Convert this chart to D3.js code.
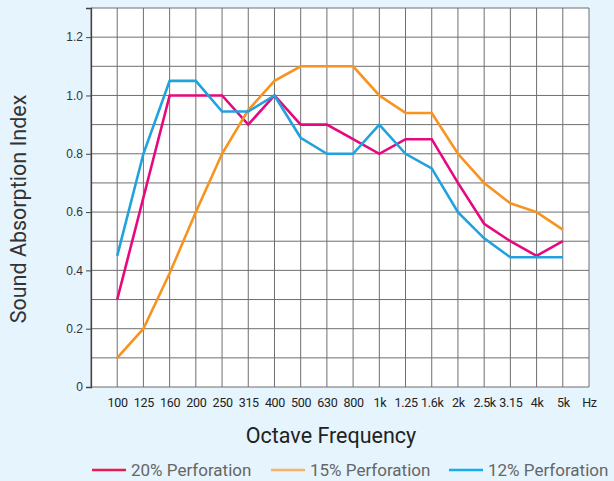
<!DOCTYPE html>
<html>
<head>
<meta charset="utf-8">
<script src="https://cdn.jsdelivr.net/npm/d3@7"></script>
<style>
  html, body { margin: 0; padding: 0; background: #e6f4fd; }
  svg { display: block; }
  .tick text { font-family: Roboto, "Liberation Sans", sans-serif; }
</style>
</head>
<body>
<div id="chart"></div>
<script>
// octave bands along the x axis
var freqs = ['100', '125', '160', '200', '250', '315', '400', '500', '630', '800',
    '1k', '1.25', '1.6k', '2k', '2.5k', '3.15', '4k', '5k'];
var seriesNames = ['20% Perforation', '15% Perforation', '12% Perforation'];
var perf20 = [0.30, 0.65, 1.00, 1.00, 1.00, 0.90, 1.00, 0.90, 0.90, 0.85,
    0.80, 0.85, 0.85, 0.70, 0.56, 0.50, 0.45, 0.50];
var perf15 = [0.10, 0.20, 0.39, 0.60, 0.80, 0.95, 1.05, 1.10, 1.10, 1.10,
    1.00, 0.94, 0.94, 0.80, 0.70, 0.63, 0.60, 0.54];
var perf12 = [0.45, 0.80, 1.05, 1.05, 0.945, 0.945, 1.00, 0.855, 0.80, 0.80,
    0.90, 0.80, 0.75, 0.60, 0.51, 0.445, 0.445, 0.445];
var yTicks = [0, 0.2, 0.4, 0.6, 0.8, 1.0, 1.2];

var W = 614, H = 481;
var lineColors = ['#e6087f', '#f7931e', '#1fa2dd'];
var legendColors = ['#ea1a50', '#f8b06a', '#18abee'];

var svg = d3.select('#chart').append('svg')
    .attr('width', W).attr('height', H);

var plot = { left: 91, right: 589, top: 8, bottom: 387 };

var x = d3.scalePoint()
    .domain([''].concat(freqs, ['Hz']))
    .range([plot.left, plot.right]);
var y = d3.scaleLinear().domain([0, 1.3]).range([plot.bottom, plot.top]);

// plot background
svg.append('rect')
    .attr('x', plot.left).attr('y', plot.top)
    .attr('width', plot.right - plot.left).attr('height', plot.bottom - plot.top)
    .attr('fill', '#fff');

// grid
var g = svg.append('g').attr('class', 'grid');
g.selectAll('line.v').data(x.domain())
    .enter().append('line').attr('class', 'v')
    .attr('x1', function (d) { return x(d); })
    .attr('x2', function (d) { return x(d); })
    .attr('y1', plot.top).attr('y2', plot.bottom)
    .attr('stroke', '#6f6f6f').attr('stroke-width', 1);
g.selectAll('line.h').data(d3.range(0, 14).map(function (i) { return i / 10; }))
    .enter().append('line').attr('class', 'h')
    .attr('x1', plot.left).attr('x2', plot.right)
    .attr('y1', function (d) { return y(d); })
    .attr('y2', function (d) { return y(d); })
    .attr('stroke', '#6f6f6f').attr('stroke-width', 1);

// y axis
var yAxis = svg.append('g')
    .attr('transform', 'translate(' + plot.left + ',0)')
    .call(d3.axisLeft(y).tickValues(yTicks).tickSize(5).tickPadding(3)
        .tickFormat(function (d) { return d === 0 ? '0' : d3.format('.1f')(d); }));
yAxis.select('.domain').attr('stroke', '#444').attr('stroke-width', 1.3);
yAxis.selectAll('.tick line').attr('stroke', '#444');
yAxis.selectAll('.tick text')
    .attr('fill', '#333').attr('font-size', 12)
    .style('font-family', '"Liberation Sans", Arial, sans-serif');

// x axis labels
var xAxis = svg.append('g')
    .attr('transform', 'translate(0,' + plot.bottom + ')')
    .call(d3.axisBottom(x).tickValues(freqs.concat(['Hz'])).tickSize(0).tickPadding(11));
xAxis.select('.domain').remove();
xAxis.selectAll('.tick text')
    .attr('fill', '#222').attr('font-size', 12.5).attr('letter-spacing', -0.3);

// series lines
var series = [perf20, perf15, perf12];
var line = d3.line()
    .x(function (d, i) { return x(freqs[i]); })
    .y(function (d) { return y(d); });
svg.append('g').selectAll('path').data(series)
    .enter().append('path')
    .attr('d', line)
    .attr('fill', 'none')
    .attr('stroke', function (d, i) { return lineColors[i]; })
    .attr('stroke-width', 2.6)
    .attr('stroke-linejoin', 'miter');

// axis titles
svg.append('text')
    .attr('x', 331).attr('y', 443)
    .attr('text-anchor', 'middle')
    .attr('font-family', 'Roboto, sans-serif')
    .attr('font-size', 21.5).attr('fill', '#222')
    .text('Octave Frequency');
svg.append('text')
    .attr('transform', 'translate(26,209) rotate(-90)')
    .attr('text-anchor', 'middle')
    .attr('font-family', 'Roboto, sans-serif')
    .attr('font-size', 21.5).attr('fill', '#333')
    .text('Sound Absorption Index');

// legend
var legendX = [92, 271, 449];
var lg = svg.append('g').selectAll('g').data(seriesNames)
    .enter().append('g')
    .attr('transform', function (d, i) { return 'translate(' + legendX[i] + ',470)'; });
lg.append('line')
    .attr('x1', 0).attr('x2', 34).attr('y1', 0).attr('y2', 0)
    .attr('stroke', function (d, i) { return legendColors[i]; })
    .attr('stroke-width', 2.5);
lg.append('text')
    .attr('x', 39).attr('y', 6)
    .attr('font-family', 'Roboto, sans-serif')
    .attr('font-size', 17).attr('fill', '#666')
    .text(function (d) { return d; });
</script>
</body>
</html>
